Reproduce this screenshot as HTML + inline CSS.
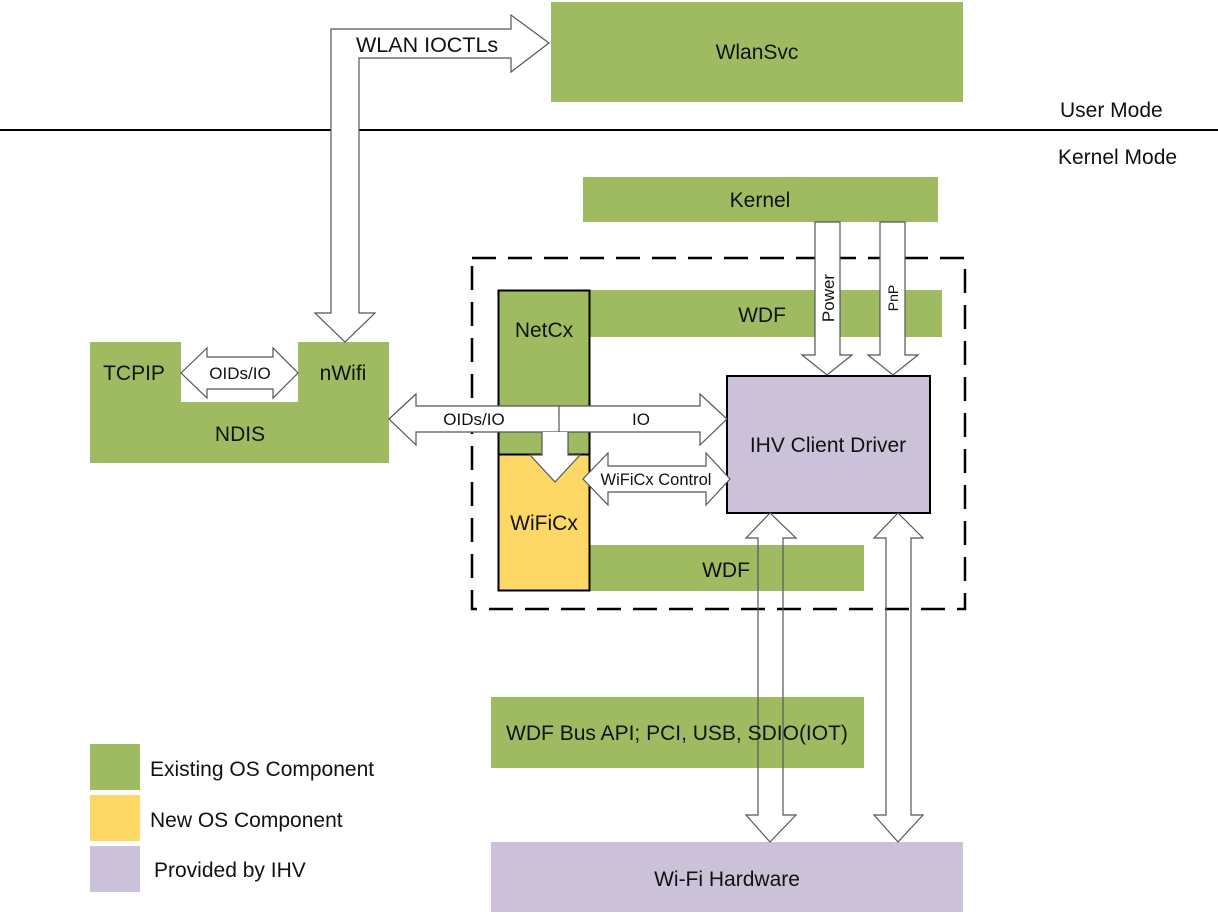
<!DOCTYPE html>
<html><head><meta charset="utf-8">
<style>
html,body{margin:0;padding:0;background:#fff;}
svg{display:block;}
text{font-family:"Liberation Sans",sans-serif;fill:#111;}
</style></head>
<body>
<svg width="1218" height="915" viewBox="0 0 1218 915" xmlns="http://www.w3.org/2000/svg">
<g fill="#9fbb62">
  <rect x="551" y="2" width="412" height="100"/>
  <rect x="583" y="177" width="355" height="45"/>
  <rect x="589" y="290" width="353" height="47"/>
  <rect x="589" y="545" width="275" height="46"/>
  <rect x="491" y="697" width="373" height="71"/>
  <path d="M90 342 H181 V402 H298 V342 H389 V463 H90 Z"/>
  <rect x="90" y="744" width="50" height="46"/>
</g>
<rect x="90" y="795" width="50" height="46" fill="#fdd866"/>
<rect x="90" y="846" width="50" height="46" fill="#cbc2d9"/>
<rect x="491" y="842" width="472" height="70" fill="#cbc2d9"/>
<line x1="0" y1="130" x2="1218" y2="130" stroke="#000" stroke-width="2"/>
<rect x="472" y="258" width="493" height="351" fill="none" stroke="#000" stroke-width="2.5" stroke-dasharray="24,12"/>
<rect x="498.5" y="290.5" width="91" height="164" fill="#9fbb62" stroke="#000" stroke-width="2"/>
<rect x="498.5" y="454.5" width="91" height="136" fill="#fdd866" stroke="#000" stroke-width="2"/>
<rect x="727" y="376" width="203" height="137" fill="#cbc2d9" stroke="#000" stroke-width="2"/>

<g fill="#fff" stroke="#555" stroke-width="1.2">
  <path d="M331 313 V29 H511 V15 L549 43 L511 72 V58 H359 V313 H375 L345 342 L315 313 Z"/>
  <path d="M181 373 L207 348 V357 H273 V348 L298 373 L273 398 V389 H207 V398 Z"/>
  <path d="M389 419 L416 394 V406 H700 V394 L727 419 L700 445 V432 H416 V445 Z"/>
  <line x1="559" y1="406" x2="559" y2="432"/>
  <path d="M542 432 H568 V455 H580 L555 482 L530 455 H542 Z" stroke="none"/>
  <path d="M542 432 V455 H530 L555 482 L580 455 H568 V432" fill="none"/>
  <path d="M583 479 L608 453 V466 H706 V453 L730 479 L706 505 V492 H608 V505 Z"/>
  <path d="M815 222 H840 V355 H852 L827 375 L802 355 H815 Z"/>
  <path d="M880 222 H905 V355 H918 L893 375 L868 355 H880 Z"/>
</g>
<g fill="none" stroke="#555" stroke-width="1.2">
  <path d="M758 538 H746 L770 513 L796 538 H783 V815 H796 L770 842 L746 815 H758 Z"/>
  <path d="M886 538 H874 L898 513 L923 538 H911 V815 H923 L898 842 L874 815 H886 Z"/>
</g>

<g font-size="21">
  <text x="757" y="59" text-anchor="middle">WlanSvc</text>
  <text x="1060" y="117">User Mode</text>
  <text x="1058" y="164">Kernel Mode</text>
  <text x="760" y="207" text-anchor="middle">Kernel</text>
  <text x="762" y="322" text-anchor="middle">WDF</text>
  <text x="726" y="577" text-anchor="middle">WDF</text>
  <text x="544" y="337" text-anchor="middle">NetCx</text>
  <text x="544" y="530" text-anchor="middle">WiFiCx</text>
  <text x="828" y="452" text-anchor="middle">IHV Client Driver</text>
  <text x="677" y="740" text-anchor="middle">WDF Bus API; PCI, USB, SDIO(IOT)</text>
  <text x="727" y="886" text-anchor="middle">Wi-Fi Hardware</text>
  <text x="134" y="380" text-anchor="middle">TCPIP</text>
  <text x="343" y="380" text-anchor="middle">nWifi</text>
  <text x="240" y="441" text-anchor="middle">NDIS</text>
  <text x="356" y="52" font-size="21.5">WLAN IOCTLs</text>
  <text x="150" y="776">Existing OS Component</text>
  <text x="150" y="827">New OS Component</text>
  <text x="154" y="877">Provided by IHV</text>
</g>
<g font-size="17">
  <text x="240" y="379" text-anchor="middle">OIDs/IO</text>
  <text x="474" y="425" text-anchor="middle">OIDs/IO</text>
  <text x="641" y="425" text-anchor="middle">IO</text>
  <text x="656" y="485" text-anchor="middle" font-size="16.5">WiFiCx Control</text>
  <text transform="translate(834 298) rotate(-90)" text-anchor="middle">Power</text>
  <text transform="translate(898 298) rotate(-90)" text-anchor="middle" font-size="14">PnP</text>
</g>
</svg>
</body></html>
